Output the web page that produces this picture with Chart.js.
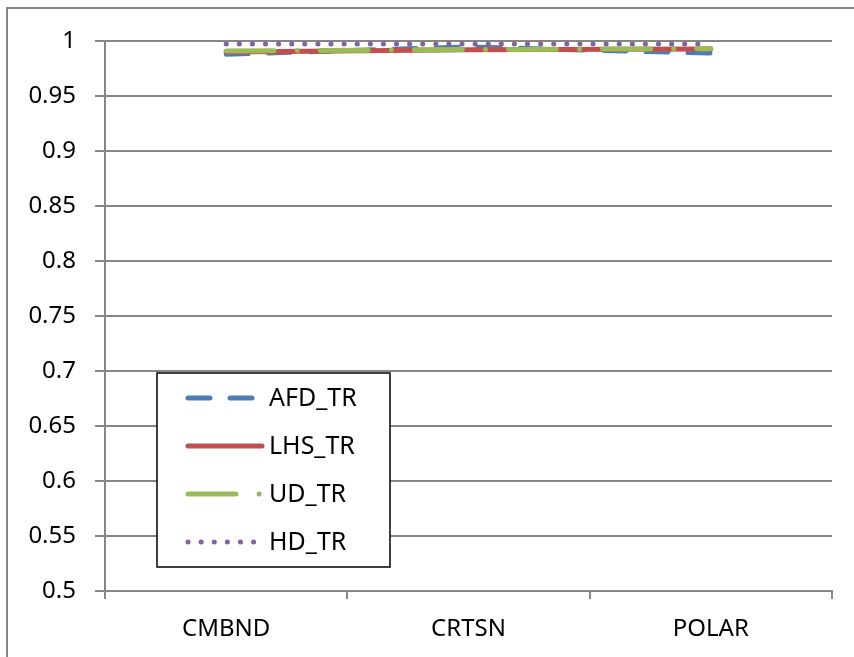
<!DOCTYPE html>
<html>
<head>
<meta charset="utf-8">
<script src="https://cdn.jsdelivr.net/npm/chart.js@4/dist/chart.umd.min.js"></script>
<style>
  html, body { margin: 0; padding: 0; background: #fff; }
  #wrap { width: 854px; height: 657px; }
</style>
</head>
<body>
<div id="wrap"><canvas id="trChart" width="854" height="657"></canvas></div>
<script>
// categories and series
const categories = ["CMBND", "CRTSN", "POLAR"];
const afdTr = [0.988, 0.9945, 0.989];
const lhsTr = [0.990, 0.992, 0.9927];
const udTr  = [0.991, 0.9922, 0.993];
const hdTr  = [0.9972, 0.9972, 0.9972];
const yTicks = [0.5, 0.55, 0.6, 0.65, 0.7, 0.75, 0.8, 0.85, 0.9, 0.95, 1];

const FONT = "'Noto Sans', 'Open Sans', sans-serif";
const GRID = "#868686";

// frame round the whole chart + legend box drawn inside the plot
const frameAndLegend = {
  id: "frameAndLegend",
  beforeDraw(chart) {
    const c = chart.ctx;
    c.save();
    c.fillStyle = "#fff";
    c.fillRect(0, 0, chart.width, chart.height);
    c.strokeStyle = GRID;
    c.lineWidth = 2;
    c.strokeRect(7, 8, chart.width + 20, chart.height + 20);
    c.restore();
  },
  afterDraw(chart) {
    const c = chart.ctx;
    const box = { x: 157, y: 373, w: 233, h: 194 };
    c.save();
    c.fillStyle = "#fff";
    c.fillRect(box.x, box.y, box.w, box.h);
    c.strokeStyle = "#000";
    c.lineWidth = 1.5;
    c.strokeRect(box.x, box.y, box.w, box.h);
    const rows = [398, 446, 494, 542];
    chart.data.datasets.forEach((ds, i) => {
      const y = rows[i];
      c.beginPath();
      c.strokeStyle = ds.borderColor;
      c.lineWidth = ds.borderWidth;
      c.lineCap = ds.borderCapStyle;
      c.setLineDash(ds.borderDash || []);
      c.moveTo(188, y);
      c.lineTo(ds.legendEnd, y);
      c.stroke();
      c.setLineDash([]);
      c.fillStyle = "#000";
      c.font = "25px " + FONT;
      c.textBaseline = "middle";
      c.fillText(ds.label, 269, y + 1);
    });
    c.restore();
  }
};

new Chart(document.getElementById("trChart"), {
  type: "line",
  data: {
    labels: categories,
    datasets: [
      { label: "AFD_TR", data: afdTr, borderColor: "#4A7EBB", borderWidth: 5,
        borderDash: [22, 20], borderCapStyle: "round", order: 4, legendEnd: 256 },
      { label: "LHS_TR", data: lhsTr, borderColor: "#C0504D", borderWidth: 5,
        borderDash: [], borderCapStyle: "round", order: 3, legendEnd: 262 },
      { label: "UD_TR", data: udTr, borderColor: "#9BBB59", borderWidth: 5,
        borderDash: [48, 23, 0.1, 23], borderCapStyle: "round", order: 2, legendEnd: 261 },
      { label: "HD_TR", data: hdTr, borderColor: "#8064A2", borderWidth: 5,
        borderDash: [0.1, 13], borderCapStyle: "round", order: 1, legendEnd: 256 }
    ]
  },
  options: {
    responsive: false,
    animation: false,
    devicePixelRatio: 1,
    elements: { point: { radius: 0 }, line: { tension: 0 } },
    layout: { padding: { left: 0, top: 41, right: 22, bottom: 0 } },
    plugins: { legend: { display: false }, tooltip: { enabled: false } },
    scales: {
      x: {
        offset: true,
        grid: { display: true, drawOnChartArea: false, drawTicks: true, tickLength: 8,
                offset: true, color: GRID, lineWidth: 2 },
        border: { display: true, color: GRID, width: 2 },
        ticks: { color: "#000", font: { family: FONT, size: 24 }, padding: 16 },
        afterFit(s) { s.height = 66; }
      },
      y: {
        min: 0.5, max: 1,
        afterBuildTicks(s) { s.ticks = yTicks.map(v => ({ value: v })); },
        grid: { color: GRID, lineWidth: 2, tickLength: 10 },
        border: { display: true, color: GRID, width: 2 },
        ticks: { color: "#000", font: { family: FONT, size: 24 }, padding: 19,
                 callback: v => String(+v.toFixed(2)) },
        afterFit(s) { s.width = 105; }
      }
    }
  },
  plugins: [frameAndLegend]
});
</script>
</body>
</html>
